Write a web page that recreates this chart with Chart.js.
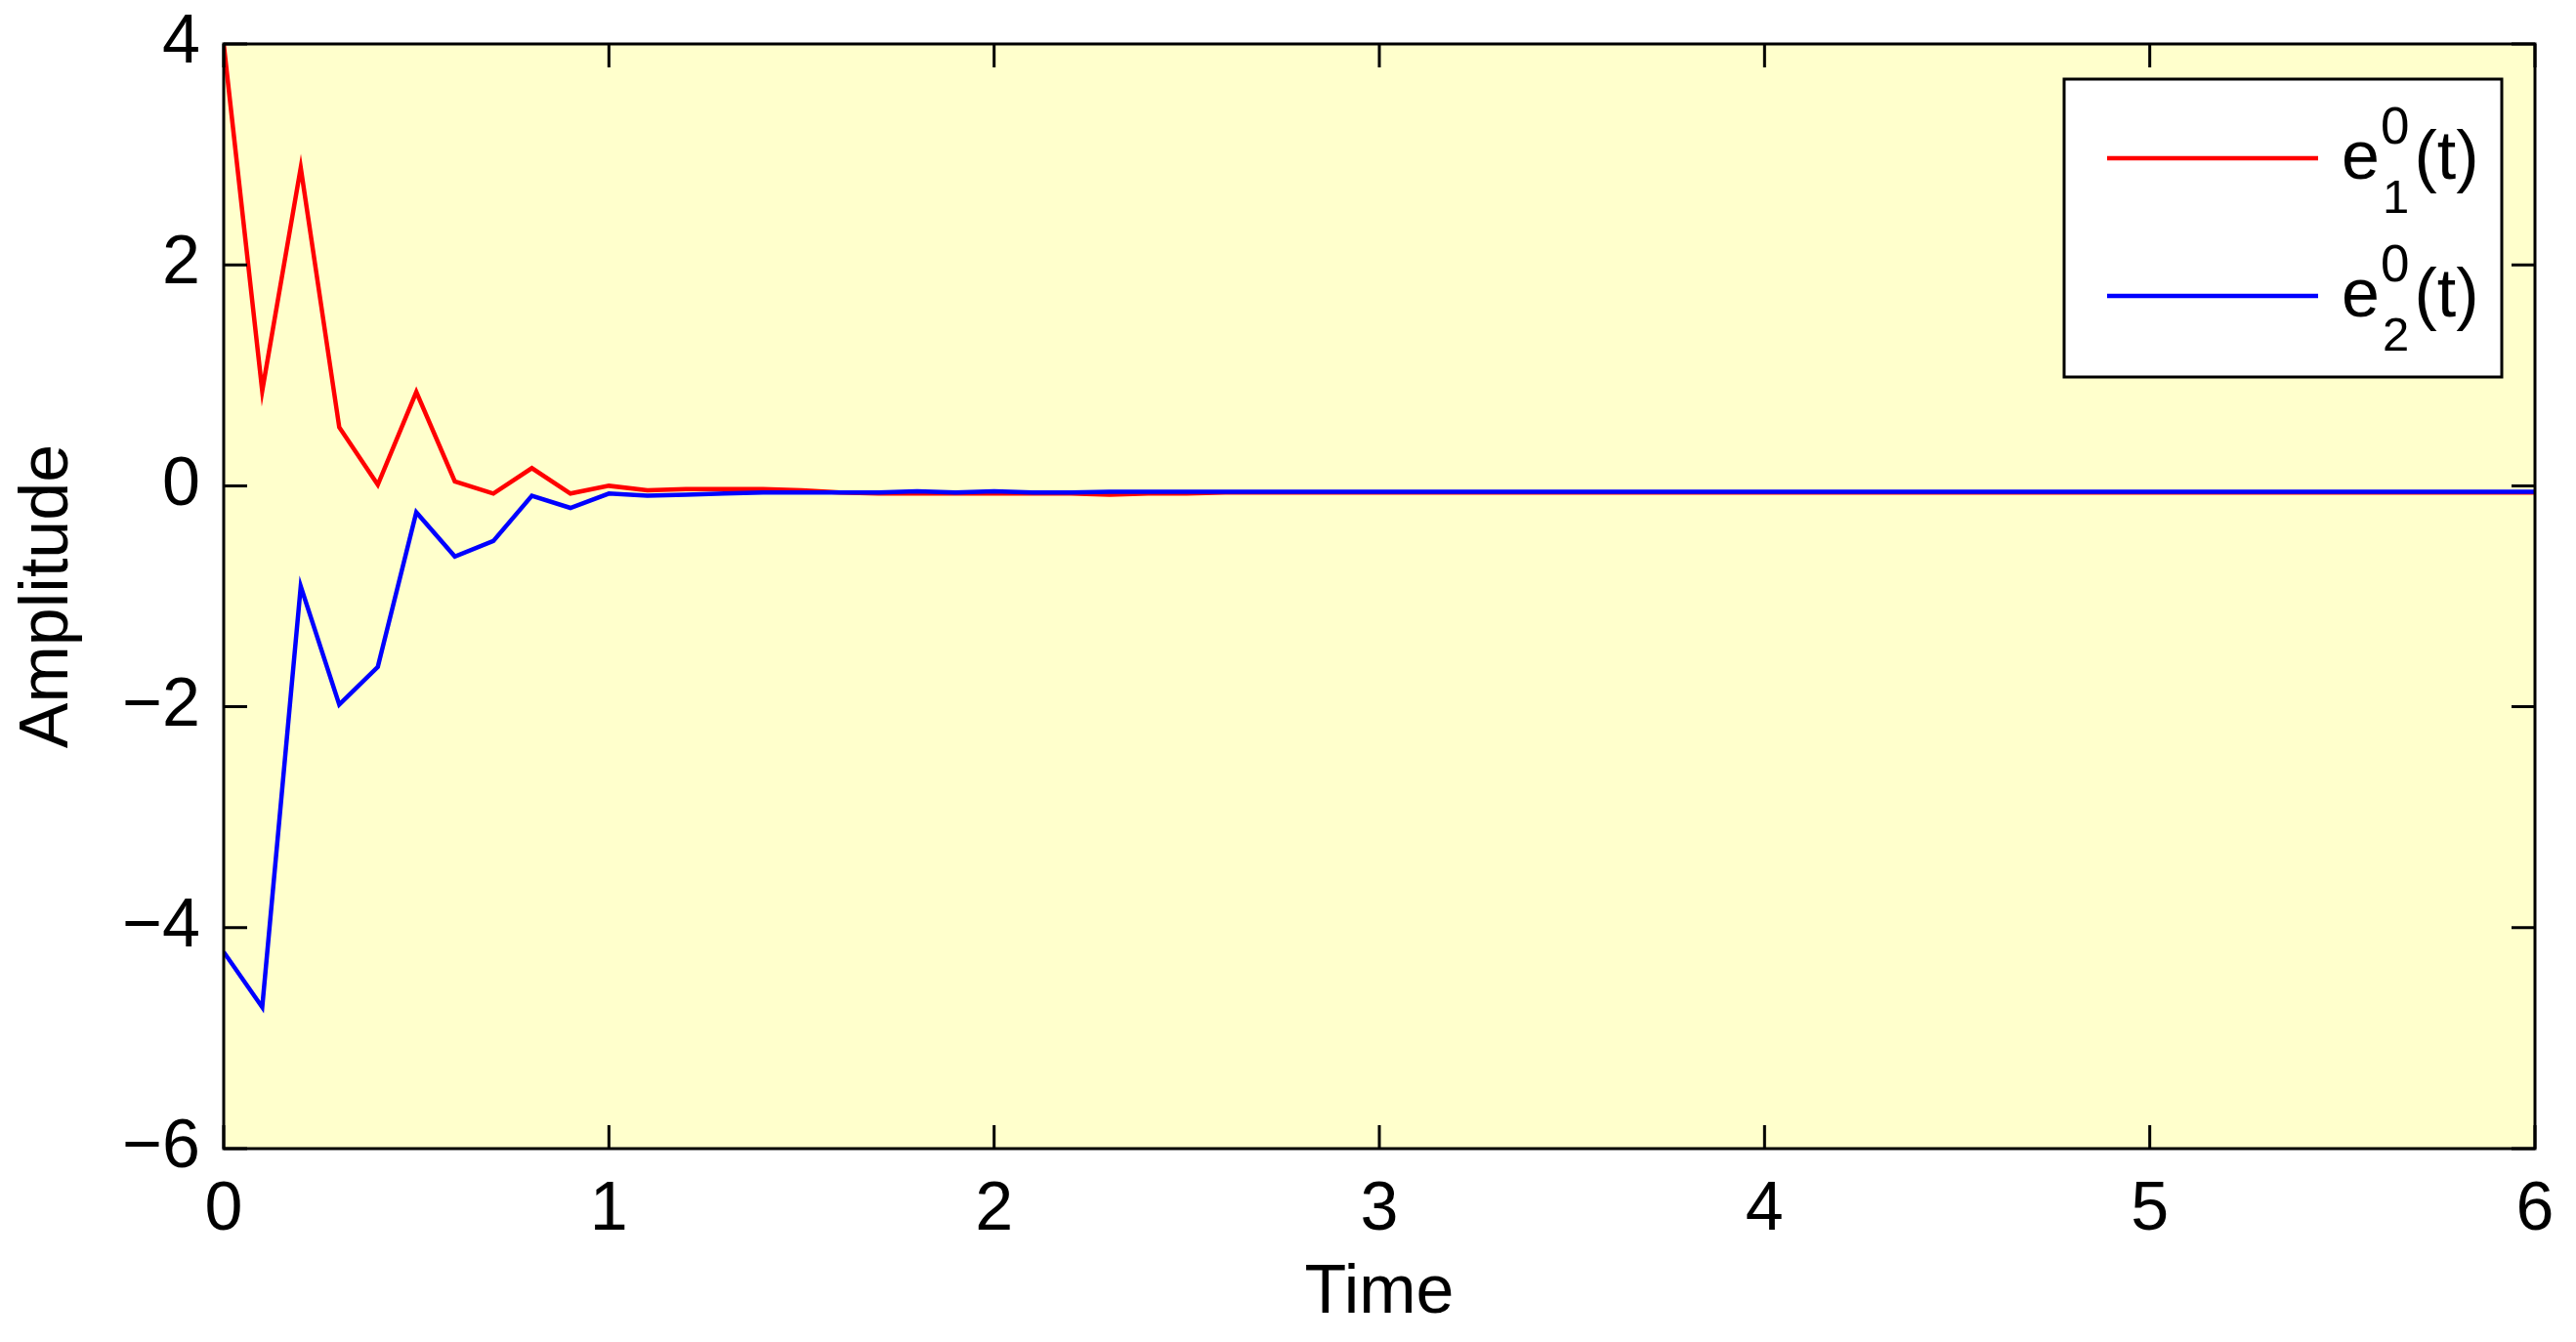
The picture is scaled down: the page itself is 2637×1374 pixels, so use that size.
<!DOCTYPE html>
<html>
<head>
<meta charset="utf-8">
<script src="https://cdn.jsdelivr.net/npm/chart.js@4.4.0/dist/chart.umd.min.js"></script>
<style>
  html, body { margin: 0; padding: 0; background: #ffffff; }
  canvas { display: block; }
</style>
</head>
<body>
<canvas id="errChart" width="2637" height="1374"></canvas>
<script>
// time samples (step 0.1)
const timeVals = [
  0.0, 0.1, 0.2, 0.3, 0.4, 0.5, 0.6, 0.7, 0.8, 0.9,
  1.0, 1.1, 1.2, 1.3, 1.4, 1.5, 1.6, 1.7, 1.8, 1.9,
  2.0, 2.1, 2.2, 2.3, 2.4, 2.5, 2.6, 2.7, 2.8, 2.9,
  3.0, 3.1, 3.2, 3.3, 3.4, 3.5, 3.6, 3.7, 3.8, 3.9,
  4.0, 4.1, 4.2, 4.3, 4.4, 4.5, 4.6, 4.7, 4.8, 4.9,
  5.0, 5.1, 5.2, 5.3, 5.4, 5.5, 5.6, 5.7, 5.8, 5.9,
  6.0
];

// e1^0(t), red
const e1Vals = [
  4.00, 0.86, 2.88, 0.53, 0.01, 0.85, 0.04, -0.07, 0.16, -0.07,
  0.00, -0.04, -0.03, -0.03, -0.03, -0.04, -0.06, -0.07, -0.07, -0.07,
  -0.07, -0.07, -0.07, -0.08, -0.07, -0.07, -0.06, -0.06, -0.06, -0.06,
  -0.06, -0.06, -0.06, -0.06, -0.06, -0.06, -0.06, -0.06, -0.06, -0.06,
  -0.06, -0.06, -0.06, -0.06, -0.06, -0.06, -0.06, -0.06, -0.06, -0.06,
  -0.06, -0.06, -0.06, -0.06, -0.06, -0.06, -0.06, -0.06, -0.06, -0.06,
  -0.06
];

// e2^0(t), blue
const e2Vals = [
  -4.22, -4.72, -0.91, -1.98, -1.64, -0.24, -0.64, -0.50, -0.09, -0.20,
  -0.07, -0.09, -0.08, -0.07, -0.06, -0.06, -0.06, -0.06, -0.05, -0.06,
  -0.05, -0.06, -0.06, -0.055, -0.055, -0.055, -0.055, -0.055, -0.055, -0.055,
  -0.055, -0.055, -0.055, -0.055, -0.055, -0.055, -0.055, -0.055, -0.055, -0.055,
  -0.055, -0.055, -0.055, -0.055, -0.055, -0.055, -0.055, -0.055, -0.055, -0.055,
  -0.055, -0.055, -0.055, -0.055, -0.055, -0.055, -0.055, -0.055, -0.055, -0.055,
  -0.055
];

const xTicks = [0, 1, 2, 3, 4, 5, 6];
const yTicks = [-6, -4, -2, 0, 2, 4];

// legend text pieces: base, superscript, subscript, tail
const legendBase = ['e', 'e'];
const legendSup = ['0', '0'];
const legendSub = ['1', '2'];
const legendTail = ['(t)', '(t)'];

const FONT = "'Liberation Sans', Arial, Helvetica, sans-serif";
const minusFix = (v) => String(v).replace('-', '\u2212');

const toPoints = (ys) => timeVals.map((t, i) => ({ x: t, y: ys[i] }));

// yellow plot background
const bgPlugin = {
  id: 'plotBg',
  beforeDatasetsDraw(chart) {
    const { ctx, chartArea: a } = chart;
    ctx.save();
    ctx.fillStyle = '#FFFFCC';
    ctx.fillRect(a.left, a.top, a.right - a.left, a.bottom - a.top);
    ctx.restore();
  }
};

// MATLAB style box with inward ticks on all four sides
const framePlugin = {
  id: 'frame',
  afterDatasetsDraw(chart) {
    const { ctx, chartArea: a, scales } = chart;
    const len = 24;
    ctx.save();
    ctx.strokeStyle = '#000';
    ctx.lineWidth = 3;
    ctx.beginPath();
    xTicks.forEach(v => {
      const px = scales.x.getPixelForValue(v);
      ctx.moveTo(px, a.bottom); ctx.lineTo(px, a.bottom - len);
      ctx.moveTo(px, a.top); ctx.lineTo(px, a.top + len);
    });
    yTicks.forEach(v => {
      const py = scales.y.getPixelForValue(v);
      ctx.moveTo(a.left, py); ctx.lineTo(a.left + len, py);
      ctx.moveTo(a.right, py); ctx.lineTo(a.right - len, py);
    });
    ctx.stroke();
    ctx.strokeRect(a.left, a.top, a.right - a.left, a.bottom - a.top);
    ctx.restore();
  }
};

// legend box with sub/superscripts
const legendPlugin = {
  id: 'mathLegend',
  afterDraw(chart) {
    const { ctx, chartArea: a } = chart;
    const boxL = a.right - 482, boxT = a.top + 36, boxW = 448, boxH = 305;
    ctx.save();
    ctx.fillStyle = '#fff';
    ctx.fillRect(boxL, boxT, boxW, boxH);
    ctx.strokeStyle = '#000';
    ctx.lineWidth = 3;
    ctx.strokeRect(boxL, boxT, boxW, boxH);

    chart.data.datasets.forEach((ds, i) => {
      const rowY = boxT + 81 + i * 141;
      ctx.strokeStyle = ds.borderColor;
      ctx.lineWidth = 4.5;
      ctx.beginPath();
      ctx.moveTo(boxL + 44, rowY);
      ctx.lineTo(boxL + 260, rowY);
      ctx.stroke();

      const base = rowY + 21;
      let x = boxL + 284;
      ctx.fillStyle = '#000';
      ctx.textBaseline = 'alphabetic';
      ctx.textAlign = 'left';
      ctx.font = '70px ' + FONT;
      ctx.fillText(legendBase[i], x, base);
      x += ctx.measureText(legendBase[i]).width + 1;
      ctx.font = '53px ' + FONT;
      ctx.fillText(legendSup[i], x, base - 36);
      const wSup = ctx.measureText(legendSup[i]).width;
      ctx.font = '49px ' + FONT;
      ctx.fillText(legendSub[i], x + 2, base + 35);
      const wSub = ctx.measureText(legendSub[i]).width + 2;
      x += Math.max(wSup, wSub) + 5;
      ctx.font = '70px ' + FONT;
      ctx.fillText(legendTail[i], x, base);
    });
    ctx.restore();
  }
};

const errChart = new Chart(document.getElementById('errChart'), {
  type: 'line',
  data: {
    datasets: [{
      label: 'e1^0(t)',
      data: toPoints(e1Vals),
      borderColor: '#FF0000',
      borderWidth: 4.5,
      pointRadius: 0,
      tension: 0,
      fill: false,
      order: 1
    }, {
      label: 'e2^0(t)',
      data: toPoints(e2Vals),
      borderColor: '#0000FF',
      borderWidth: 4.5,
      pointRadius: 0,
      tension: 0,
      fill: false,
      order: 0
    }]
  },
  options: {
    responsive: false,
    animation: false,
    devicePixelRatio: 1,
    layout: { padding: { top: 45, right: 42, bottom: 0, left: 0 } },
    plugins: {
      legend: { display: false },
      tooltip: { enabled: false }
    },
    scales: {
      x: {
        type: 'linear',
        min: 0,
        max: 6,
        afterFit: (s) => { s.height = 198; s.paddingLeft = 0; s.paddingRight = 0; },
        afterBuildTicks: (s) => { s.ticks = xTicks.map(v => ({ value: v })); },
        grid: { display: false, drawTicks: false },
        border: { display: false },
        ticks: {
          autoSkip: false,
          maxRotation: 0,
          padding: 22,
          color: '#000',
          font: { family: FONT, size: 70 },
          callback: (v) => minusFix(v)
        },
        title: {
          display: true,
          text: 'Time',
          color: '#000',
          font: { family: FONT, size: 70 },
          padding: { top: 0, bottom: 7 }
        }
      },
      y: {
        min: -6,
        max: 4,
        afterFit: (s) => { s.width = 229; s.paddingTop = 0; s.paddingBottom = 0; },
        afterBuildTicks: (s) => { s.ticks = yTicks.map(v => ({ value: v })); },
        grid: { display: false, drawTicks: false },
        border: { display: false },
        ticks: {
          autoSkip: false,
          padding: 24,
          color: '#000',
          font: { family: FONT, size: 70 },
          callback: (v) => minusFix(v)
        },
        title: {
          display: true,
          text: 'Amplitude',
          color: '#000',
          font: { family: FONT, size: 70 },
          padding: { top: 8, bottom: 0 }
        }
      }
    }
  },
  plugins: [bgPlugin, framePlugin, legendPlugin]
});
</script>
</body>
</html>
